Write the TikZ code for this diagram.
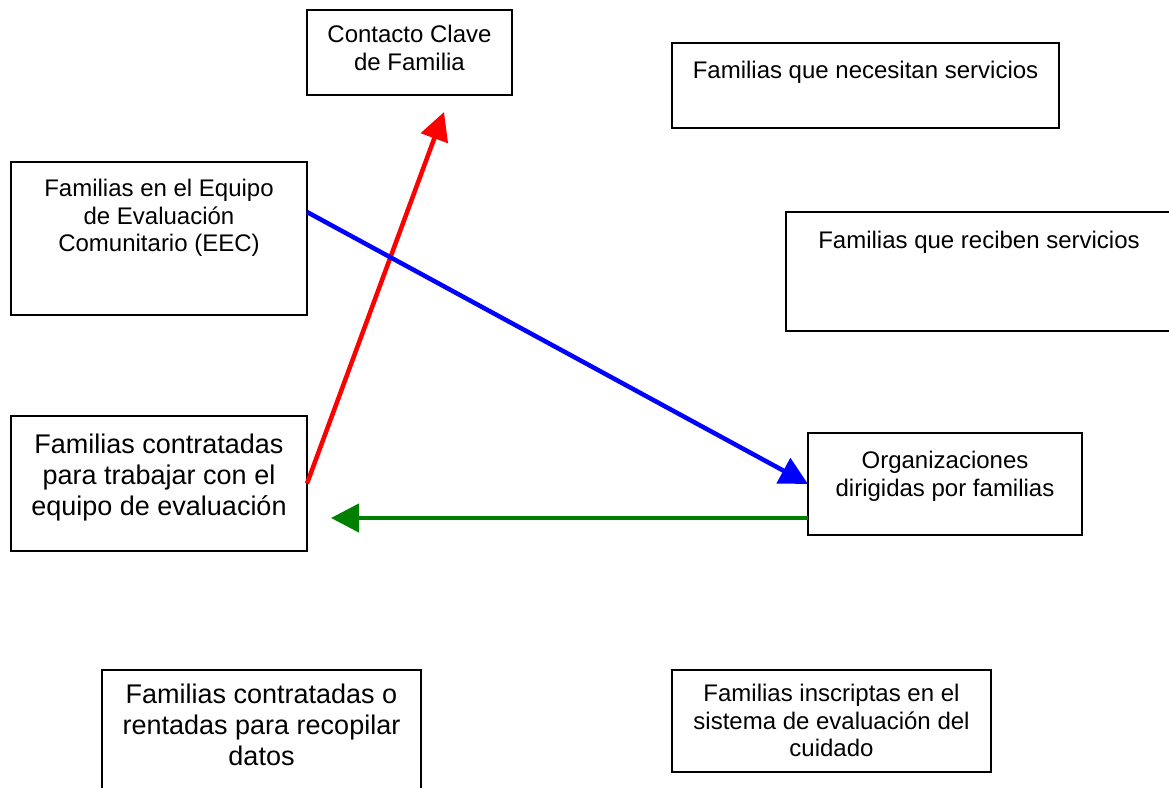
\documentclass[tikz,border=0pt]{standalone}
\usepackage{fontspec}
\setmainfont{Liberation Sans}
\usetikzlibrary{arrows.meta}
\begin{document}
\begin{tikzpicture}[x=1pt,y=-1pt,
 box/.style={draw=black, line width=2pt, anchor=north west, inner sep=0pt, outer sep=0pt},
 small/.style={font=\fontsize{24}{27.6}\selectfont, align=center, anchor=north, inner sep=0pt},
 big/.style={font=\fontsize{27}{31}\selectfont, align=center, anchor=north, inner sep=0pt},
 conn/.style={line width=4.5pt, -{Triangle[length=28pt,width=28pt]}}]
\useasboundingbox (0,0) rectangle (1169,787);
\clip (0,0) rectangle (1169,787);
\node[box, minimum width=205pt, minimum height=85pt] (contacto) at (307,10) {};
\node[box, minimum width=387pt, minimum height=85pt] (necesitan) at (672,43) {};
\node[box, minimum width=296pt, minimum height=153pt] (eec) at (11,162) {};
\node[box, minimum width=386pt, minimum height=119pt] (reciben) at (786,212) {};
\node[box, minimum width=296pt, minimum height=135pt] (contratadas) at (11,416) {};
\node[box, minimum width=274pt, minimum height=102pt] (org) at (808,433) {};
\node[box, minimum width=319pt, minimum height=125pt] (recopilar) at (102,670) {};
\node[box, minimum width=319pt, minimum height=102pt] (inscriptas) at (672,670) {};

\node[small] (tcontacto) at ([yshift=-15pt]contacto.north) {Contacto Clave\\de Familia};
\node[small] (tnecesitan) at ([yshift=-18pt]necesitan.north) {Familias que necesitan servicios};
\node[small] (teec) at ([yshift=-17pt]eec.north) {Familias en el Equipo\\de Evaluación\\Comunitario (EEC)};
\node[small] (treciben) at ([yshift=-19pt]reciben.north) {Familias que reciben servicios};
\node[big] (tcontratadas) at ([yshift=-18pt]contratadas.north) {Familias contratadas\\para trabajar con el\\equipo de evaluación};
\node[small] (torg) at ([yshift=-18pt]org.north) {Organizaciones\\dirigidas por familias};
\node[big] (trecopilar) at ([yshift=-14pt]recopilar.north) {Familias contratadas o\\rentadas para recopilar\\datos};
\node[small] (tinscriptas) at ([yshift=-14pt]inscriptas.north) {Familias inscriptas en el\\sistema de evaluación del\\cuidado};

\coordinate (redtip) at (444,112);
\coordinate (greenstart) at ([yshift=-34pt]org.west);
\coordinate (greentip) at (greenstart -| 331,0);
\draw[conn, red] (contratadas.east) -- (redtip);
\draw[conn, blue] ([yshift=-50pt]eec.north east) -- (org.west);
\draw[conn, green!50!black] (greenstart) -- (greentip);
\end{tikzpicture}
\end{document}
